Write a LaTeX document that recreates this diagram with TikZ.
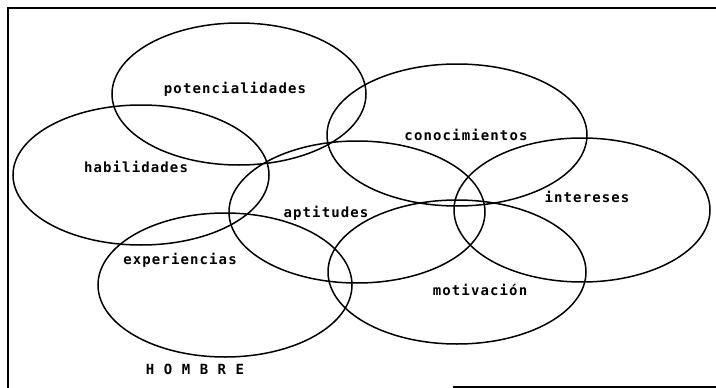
\documentclass[tikz,border=0pt]{standalone}
\usepackage{fontspec}
\newfontfamily\plotfont[LetterSpace=8]{DejaVu Sans Mono}
\usepackage{tikz}
\usetikzlibrary{positioning}

\tikzset{
  blob/.style={line width=1.5pt},
  lbl/.style={font=\plotfont\bfseries\fontsize{14}{16}\selectfont, inner sep=0pt}
}

\begin{document}
\begin{tikzpicture}[x=1pt, y=-1pt]
    \useasboundingbox (0, 0) rectangle (716, 388);

    % Frame
    \draw[line width=1.8pt] (8, 388) -- (8, 8) -- (716, 8);
    \draw[line width=1.8pt] (453, 387) -- (716, 387);

    % Ellipses
    \draw[blob] (239, 94) ellipse (127 and 71);
    \draw[blob] (141, 175) ellipse (128 and 70);
    \draw[blob] (457, 135) ellipse (130 and 71);
    \draw[blob] (357, 212) ellipse (128 and 71);
    \draw[blob] (582, 210) ellipse (128 and 72);
    \draw[blob] (225, 285) ellipse (127 and 72);
    \draw[blob] (457, 272) ellipse (129 and 72);

    % Labels
    \node[lbl] (pot) at (235, 89) {potencialidades};
    \node[lbl] (hab) at (136, 167) {habilidades};
    \node[lbl] (con) at (466, 135) {conocimientos};
    \node[lbl] (int) at (587, 197) {intereses};
    \node[lbl] (apt) at (326, 213) {aptitudes};
    \node[lbl] (exp) at (180, 260) {experiencias};
    \node[lbl] (mot) at (480, 290) {motivación};
    \node[lbl] (hom) at (195, 369) {H O M B R E};
\end{tikzpicture}
\end{document}
